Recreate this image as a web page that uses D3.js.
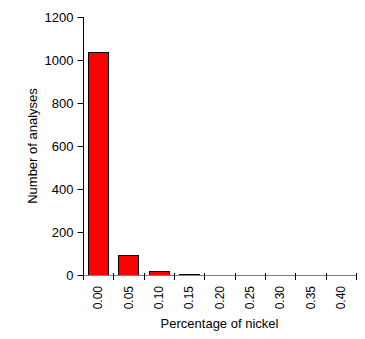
<!DOCTYPE html>
<html lang="en">
<head>
    <meta charset="UTF-8">
    <title>Nickel histogram</title>
    <script src="https://cdn.jsdelivr.net/npm/d3@7"></script>
    <style>
        body { margin: 0; background: #fff; }
        text { font-family: "Liberation Sans", Arial, sans-serif; }
    </style>
</head>
<body>
<script>
    // data
    const categories = ["0.00", "0.05", "0.10", "0.15", "0.20", "0.25", "0.30", "0.35", "0.40"];
    const counts = [1037, 93, 18, 4, 0, 0, 0, 0, 0];
    const yTicks = [0, 200, 400, 600, 800, 1000, 1200];

    const width = 365, height = 339;
    const plotLeft = 83, plotRight = 356, plotTop = 17, plotBottom = 275;

    const svg = d3.select("body").append("svg")
        .attr("width", width)
        .attr("height", height);

    const x = d3.scaleBand()
        .domain(categories)
        .range([plotLeft, plotRight])
        .paddingInner(0.34)
        .paddingOuter(0.17);

    const y = d3.scaleLinear()
        .domain([0, 1200])
        .range([plotBottom, plotTop]);

    // bars
    svg.append("g")
        .selectAll("rect")
        .data(counts.map((v, i) => ({ cat: categories[i], v })).filter(d => d.v > 0))
        .join("rect")
        .attr("x", d => Math.round(x(d.cat)) + 0.5)
        .attr("y", d => Math.round(y(d.v)) + 0.5)
        .attr("width", Math.round(x.bandwidth()))
        .attr("height", d => Math.max(1, plotBottom - Math.round(y(d.v))))
        .attr("fill", "#ff0000")
        .attr("stroke", "#000")
        .attr("stroke-width", 1);

    // y axis
    const yAxis = svg.append("g")
        .attr("transform", `translate(${plotLeft + 0.5},0)`)
        .call(d3.axisLeft(y).tickValues(yTicks).tickSize(6).tickPadding(4).tickFormat(d3.format("d")));
    yAxis.select(".domain").attr("d", `M0,${plotTop}V${plotBottom}`).attr("stroke", "#000");
    yAxis.selectAll(".tick line").attr("stroke", "#000");
    yAxis.selectAll("text").attr("font-size", 13).attr("fill", "#000");

    // x axis: gray line, black crossing ticks at band edges
    const xg = svg.append("g");
    xg.append("line")
        .attr("x1", plotLeft).attr("x2", plotRight + 1)
        .attr("y1", plotBottom + 0.5).attr("y2", plotBottom + 0.5)
        .attr("stroke", "#808080");
    const step = x.step();
    const edges = d3.range(categories.length + 1).map(i => plotLeft + i * step);
    xg.selectAll("line.tk")
        .data(edges)
        .join("line")
        .attr("class", "tk")
        .attr("x1", d => Math.round(d) + 0.5).attr("x2", d => Math.round(d) + 0.5)
        .attr("y1", plotBottom - 2).attr("y2", plotBottom + 5)
        .attr("stroke", "#000");
    xg.selectAll("text")
        .data(categories)
        .join("text")
        .attr("transform", d => `translate(${x(d) + x.bandwidth() / 2 + 4},${286}) rotate(-90)`)
        .attr("text-anchor", "end")
        .attr("font-size", 12)
        .text(d => d);

    // titles
    svg.append("text")
        .attr("x", (plotLeft + plotRight) / 2)
        .attr("y", 328)
        .attr("text-anchor", "middle")
        .attr("font-size", 13)
        .text("Percentage of nickel");

    svg.append("text")
        .attr("transform", `translate(37,${(plotTop + plotBottom) / 2}) rotate(-90)`)
        .attr("text-anchor", "middle")
        .attr("font-size", 13)
        .text("Number of analyses");
</script>
</body>
</html>
